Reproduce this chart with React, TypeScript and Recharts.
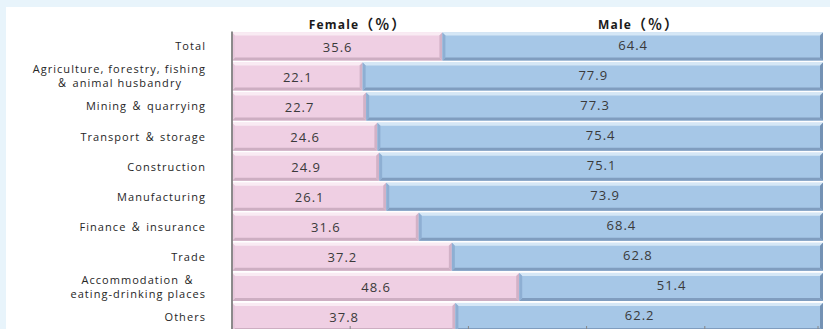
import React from "react";
import { BarChart, Bar, XAxis, YAxis, LabelList } from "recharts";

// Share of employees by sex, per industry
const industries = [
  "Total",
  "Agriculture, forestry, fishing\n＆ animal husbandry",
  "Mining ＆ quarrying",
  "Transport ＆ storage",
  "Construction",
  "Manufacturing",
  "Finance ＆ insurance",
  "Trade",
  "Accommodation ＆\neating-drinking places",
  "Others",
];
const femaleShare = [35.6, 22.1, 22.7, 24.6, 24.9, 26.1, 31.6, 37.2, 48.6, 37.8];
const maleShare = [64.4, 77.9, 77.3, 75.4, 75.1, 73.9, 68.4, 62.8, 51.4, 62.2];
const seriesTitles = ["Female", "Male"];
const unitSuffix = "（％）";
const xTicks = [0, 20, 40, 60, 80, 100];

const rows = industries.map((name, i) => ({
  name,
  female: femaleShare[i],
  male: maleShare[i],
}));

const FONT = '"Open Sans", "Noto Sans CJK SC", sans-serif';
const CJK_FONT = '"Noto Sans CJK SC", "Open Sans", sans-serif';
const FONT_SIZE = 11;
const LETTER_SPACING = 1.05;
const LINE_H = 14;
const LABEL_GAP = 26;

type Palette = { face: string; top: string; bottom: string; right: string; left: string };
const PINK: Palette = {
  face: "#efcfe3",
  top: "#f9ebf3",
  bottom: "#cdaec2",
  right: "#d2b2c7",
  left: "#e8c8dc",
};
const BLUE: Palette = {
  face: "#a6c7e7",
  top: "#d5e7f6",
  bottom: "#809dbf",
  right: "#7492b4",
  left: "#8eafd3",
};

let measureCtx: CanvasRenderingContext2D | null = null;
function textWidth(s: string): number {
  if (!measureCtx && typeof document !== "undefined") {
    measureCtx = document.createElement("canvas").getContext("2d");
  }
  const spacing = s.length * LETTER_SPACING;
  if (!measureCtx) return s.length * 6 + spacing;
  measureCtx.font = `${FONT_SIZE}px ${FONT}`;
  return measureCtx.measureText(s).width + spacing;
}

// Category label: single lines right-aligned, wrapped labels centred as a block
function IndustryTick(props: any) {
  const { x, y, payload } = props;
  const lines = String(payload.value).split("\n");
  const right = x - LABEL_GAP;
  const common = {
    fontFamily: FONT,
    fontSize: FONT_SIZE,
    letterSpacing: LETTER_SPACING,
    fill: "#262626",
  };
  if (lines.length === 1) {
    return (
      <text x={right} y={y} dy="0.35em" textAnchor="end" {...common}>
        {lines[0]}
      </text>
    );
  }
  const widest = Math.max(...lines.map(textWidth));
  const cx = right - widest / 2;
  return (
    <g>
      {lines.map((line, i) => (
        <text
          key={i}
          x={cx}
          y={y + (i - (lines.length - 1) / 2) * LINE_H}
          dy="0.35em"
          textAnchor="middle"
          {...common}
        >
          {line}
        </text>
      ))}
    </g>
  );
}

// Short upward tick marks on the value axis
function ValueTick(props: any) {
  const { x, y } = props;
  return <line x1={x} x2={x} y1={y - 6} y2={y + 2} stroke="#868686" strokeWidth={1} />;
}

// Bar segment with a bevelled edge
function BevelBar(props: any & { palette: Palette }) {
  const { x, y, width, height, palette } = props;
  if (!width || !height) return null;
  const b = Math.min(3, width / 2, height / 2);
  const x2 = x + width;
  const y2 = y + height;
  return (
    <g>
      <rect x={x} y={y} width={width} height={height} fill={palette.face} />
      <polygon
        points={`${x},${y} ${x2},${y} ${x2 - b},${y + b} ${x + b},${y + b}`}
        fill={palette.top}
      />
      <polygon
        points={`${x},${y2} ${x2},${y2} ${x2 - b},${y2 - b} ${x + b},${y2 - b}`}
        fill={palette.bottom}
      />
      <polygon
        points={`${x},${y} ${x + b},${y + b} ${x + b},${y2 - b} ${x},${y2}`}
        fill={palette.left}
      />
      <polygon
        points={`${x2},${y} ${x2 - b},${y + b} ${x2 - b},${y2 - b} ${x2},${y2}`}
        fill={palette.right}
      />
    </g>
  );
}

const valueLabel = (dy: number) => (props: any) => {
  const { x, y, width, height, value } = props;
  return (
    <text
      x={x + width / 2 + 0.5}
      y={y + height / 2 + dy}
      dy="0.35em"
      textAnchor="middle"
      fontFamily={FONT}
      fontSize={13}
      letterSpacing={1}
      fill="#3a3a3a"
    >
      {Number(value).toFixed(1)}
    </text>
  );
};

const headerStyle: React.CSSProperties = {
  position: "absolute",
  top: 15,
  width: 200,
  textAlign: "center",
  fontFamily: FONT,
  fontSize: 12,
  fontWeight: 700,
  letterSpacing: 1.2,
  color: "#1a1a1a",
  lineHeight: "16px",
  whiteSpace: "nowrap",
};

const unitStyle: React.CSSProperties = {
  fontFamily: CJK_FONT,
  fontSize: 14,
  letterSpacing: 2,
};

export default function App() {
  return (
    <div
      style={{
        position: "absolute",
        left: 0,
        top: 0,
        width: 830,
        height: 329,
        overflow: "hidden",
        background: "#e8f4fb",
      }}
    >
      <div
        style={{
          position: "absolute",
          left: 6,
          top: 7,
          right: 0,
          bottom: 0,
          background: "#ffffff",
        }}
      />
      <div style={{ ...headerStyle, left: 358 - 100 }}>
        {seriesTitles[0]}
        <span style={unitStyle}>{unitSuffix}</span>
      </div>
      <div style={{ ...headerStyle, left: 639 - 100 }}>
        {seriesTitles[1]}
        <span style={unitStyle}>{unitSuffix}</span>
      </div>
      <div style={{ position: "absolute", left: 0, top: 0 }}>
        <BarChart
          width={830}
          height={341}
          data={rows}
          layout="vertical"
          margin={{ top: 31.5, right: 7, bottom: 0, left: 6 }}
          barSize={28}
        >
          <XAxis
            type="number"
            domain={[0, 100]}
            ticks={xTicks}
            height={9}
            axisLine={false}
            tickLine={false}
            tickSize={0}
            tickMargin={0}
            tick={<ValueTick />}
          />
          <YAxis
            type="category"
            dataKey="name"
            width={226}
            axisLine={{ stroke: "#808080", strokeWidth: 1.8 }}
            tickLine={false}
            tickSize={0}
            tickMargin={0}
            interval={0}
            tick={<IndustryTick />}
          />
          <Bar
            dataKey="female"
            stackId="share"
            isAnimationActive={false}
            shape={(p: any) => <BevelBar {...p} palette={PINK} />}
          >
            <LabelList dataKey="female" content={valueLabel(0.5)} />
          </Bar>
          <Bar
            dataKey="male"
            stackId="share"
            isAnimationActive={false}
            shape={(p: any) => <BevelBar {...p} palette={BLUE} />}
          >
            <LabelList dataKey="male" content={valueLabel(-1.5)} />
          </Bar>
        </BarChart>
      </div>
    </div>
  );
}
